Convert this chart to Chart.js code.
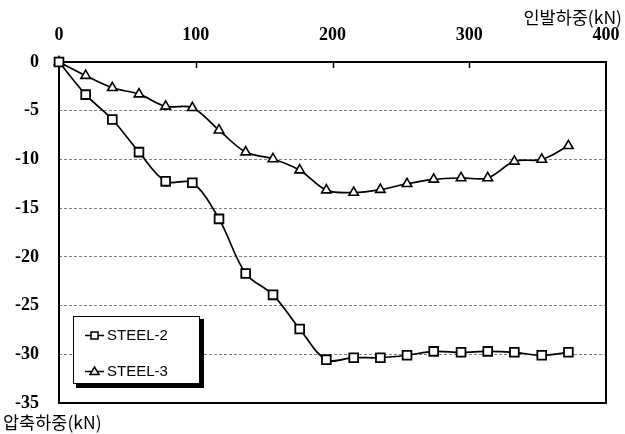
<!DOCTYPE html>
<html>
<head>
<meta charset="utf-8">
<script src="https://cdn.jsdelivr.net/npm/chart.js@4/dist/chart.umd.min.js"></script>
<style>
  html, body { margin: 0; padding: 0; background: #fff; }
  #wrap { width: 625px; height: 434px; }
</style>
</head>
<body>
<div id="wrap"><canvas id="c" width="625" height="434"></canvas></div>
<script>
// ---- data ----
const loads  = [0, 19.5, 39, 58.5, 78, 97.5, 117, 136.5, 156.5, 176, 195.5, 215.5, 235, 254.5, 274, 294, 313.5, 333, 353, 372.5];
const steel2 = [0, -3.35, -5.9, -9.25, -12.25, -12.4, -16.1, -21.7, -23.9, -27.4, -30.55, -30.35, -30.35, -30.1, -29.7, -29.8, -29.7, -29.8, -30.1, -29.8];
const steel3 = [0, -1.4, -2.65, -3.3, -4.55, -4.7, -7.0, -9.25, -9.95, -11.1, -13.15, -13.4, -13.1, -12.5, -12.05, -11.9, -11.9, -10.2, -10.0, -8.6];
const seriesNames = ['STEEL-2', 'STEEL-3'];
const xTicks = [0, 100, 200, 300, 400];
const yTicks = [0, -5, -10, -15, -20, -25, -30, -35];
const xTitle = '인발하중(kN)';
const yTitle = '압축하중(kN)';

const tickFont = { family: "'Liberation Serif', 'Times New Roman', serif", size: 18, weight: 'bold' };
const koFont = "17.5px 'Noto Sans CJK KR', sans-serif";
const legendFont = "15px 'Liberation Sans', Arial, sans-serif";

function toPoints(xs, ys) { return xs.map((x, i) => ({ x: x, y: ys[i] })); }

const decor = {
  id: 'decor',
  beforeDatasetsDraw(chart) {
    const { ctx, chartArea: a, scales } = chart;
    ctx.save();
    ctx.strokeStyle = '#000';
    ctx.lineWidth = 1.5;
    xTicks.slice(1, -1).forEach(v => {
      const px = Math.round(scales.x.getPixelForValue(v)) + 0.5;
      ctx.beginPath(); ctx.moveTo(px, a.top); ctx.lineTo(px, a.top + 6); ctx.stroke();
    });
    ctx.lineWidth = 2;
    ctx.strokeRect(a.left, a.top, a.right - a.left, a.bottom - a.top);
    ctx.restore();
  },
  afterDatasetsDraw(chart) {
    const { ctx } = chart;
    ctx.save();
    ctx.fillStyle = '#000';
    ctx.font = koFont;
    ctx.textBaseline = 'middle';
    ctx.textAlign = 'right';
    ctx.fillText(xTitle, 622, 17);
    ctx.textAlign = 'left';
    ctx.fillText(yTitle, 3, 422);
    // legend box with shadow
    const bx = 73, by = 316, bw = 127, bh = 68;
    ctx.fillStyle = '#000';
    ctx.fillRect(bx + 3, by + 3, bw + 1, bh + 1);
    ctx.fillStyle = '#fff';
    ctx.fillRect(bx, by, bw, bh);
    ctx.strokeStyle = '#000';
    ctx.lineWidth = 1;
    ctx.strokeRect(bx + 0.5, by + 0.5, bw - 1, bh - 1);
    const rows = [335, 371];
    chart.data.datasets.forEach((ds, i) => {
      const y = rows[i];
      ctx.strokeStyle = '#000';
      ctx.lineWidth = 1.5;
      ctx.beginPath(); ctx.moveTo(85, y + 0.5); ctx.lineTo(104, y + 0.5); ctx.stroke();
      ctx.fillStyle = '#fff';
      ctx.beginPath();
      if (ds.pointStyle === 'rect') { ctx.rect(91, y - 3, 7, 7); }
      else { ctx.moveTo(94.5, y - 4); ctx.lineTo(99, y + 3.5); ctx.lineTo(90, y + 3.5); ctx.closePath(); }
      ctx.fill(); ctx.stroke();
      ctx.fillStyle = '#000';
      ctx.font = legendFont;
      ctx.textAlign = 'left';
      ctx.textBaseline = 'middle';
      ctx.fillText(ds.label, 107, y + 1);
    });
    ctx.restore();
  }
};

new Chart(document.getElementById('c'), {
  type: 'line',
  data: {
    datasets: [
      {
        label: seriesNames[0], data: toPoints(loads, steel2),
        borderColor: '#000', borderWidth: 1.7, tension: 0.35,
        pointStyle: 'rect', pointRadius: 6.2, pointBorderWidth: 1.8,
        pointBackgroundColor: '#fff', pointBorderColor: '#000', clip: false
      },
      {
        label: seriesNames[1], data: toPoints(loads, steel3),
        borderColor: '#000', borderWidth: 1.7, tension: 0.35,
        pointStyle: 'triangle', pointRadius: 5.5, pointBorderWidth: 1.6,
        pointBackgroundColor: '#fff', pointBorderColor: '#000', clip: false
      }
    ]
  },
  options: {
    responsive: false,
    animation: false,
    devicePixelRatio: 1,
    layout: { padding: { left: 0, right: 19, top: 0, bottom: 31 } },
    plugins: { legend: { display: false }, tooltip: { enabled: false } },
    scales: {
      x: {
        type: 'linear', position: 'top', min: 0, max: 400,
        afterBuildTicks: s => { s.ticks = xTicks.map(v => ({ value: v })); },
        afterFit: s => { s.height = 62; s.paddingLeft = 0; s.paddingRight = 0; },
        ticks: { font: tickFont, color: '#000', padding: 16, maxRotation: 0, autoSkip: false,
                 callback: v => String(v) },
        grid: { display: false, drawTicks: false },
        border: { display: false }
      },
      y: {
        type: 'linear', min: -35, max: 0,
        afterBuildTicks: s => { s.ticks = yTicks.map(v => ({ value: v })); },
        afterFit: s => { s.width = 59; s.paddingTop = 0; s.paddingBottom = 0; },
        ticks: { font: tickFont, color: '#000', padding: 20, autoSkip: false,
                 callback: v => String(v) },
        grid: {
          drawTicks: false,
          color: c => (c.tick && (c.tick.value === 0 || c.tick.value === -35)) ? 'rgba(0,0,0,0)' : '#7f7f7f',
          lineWidth: 1
        },
        border: { display: false, dash: [3, 2] }
      }
    }
  },
  plugins: [decor]
});
</script>
</body>
</html>
